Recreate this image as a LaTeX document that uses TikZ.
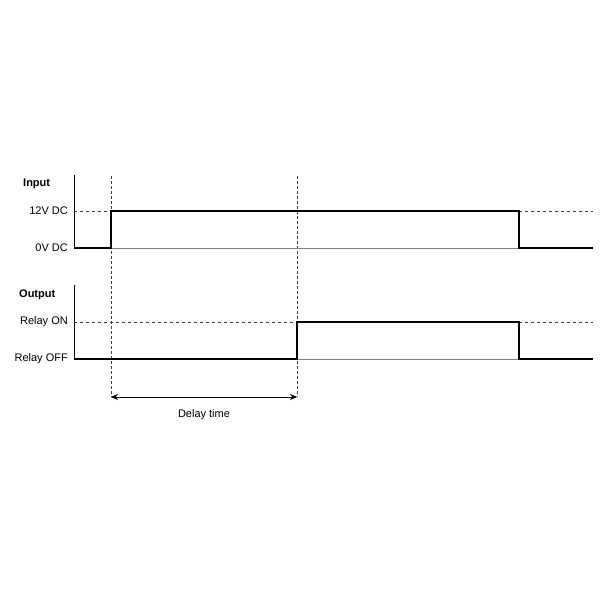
\documentclass[tikz,border=0pt]{standalone}
\usepackage{fontspec}
\setmainfont{Liberation Sans}
\usetikzlibrary{arrows.meta}

\begin{document}
\begin{tikzpicture}[x=1pt, y=-1pt, font=\fontsize{11}{13}\selectfont,
  axis/.style={-, line width=0.8pt},
  signal/.style={-, line width=2.4pt, line join=miter},
  base/.style={-, line width=0.8pt, color=gray},
  level/.style={-, line width=0.8pt, dash pattern=on 3pt off 3pt, color=darkgray},
  marker/.style={-, line width=0.8pt, dash pattern=on 2.5pt off 2.5pt, color=darkgray},
  lbl/.style={anchor=east, inner sep=0pt}]

\useasboundingbox (0, 0) rectangle (600, 600);

\coordinate (on) at (111, 0);
\coordinate (delay) at (297, 0);
\coordinate (off) at (519, 0);

\node[anchor=west, inner sep=0pt, font=\fontsize{11}{13}\selectfont\bfseries] (inlbl) at (23, 184) {Input};
\node[lbl] (inhigh) at (68, 211) {12V DC};
\node[lbl] (inlow) at (68, 248) {0V DC};

\node[anchor=west, inner sep=0pt, font=\fontsize{11}{13}\selectfont\bfseries] (outlbl) at (19, 295) {Output};
\node[lbl] (outhigh) at (68, 322) {Relay ON};
\node[lbl] (outlow) at (68, 359) {Relay OFF};

\draw[axis] (74, 175) -- (74, 248);
\draw[axis] (74, 285) -- (74, 359);

\draw[marker] (on |- 0, 176) -- (on |- 0, 397);
\draw[marker] (delay |- 0, 176) -- (delay |- 0, 397);

\draw[level] (74, 211) -- (on |- 0, 211);
\draw[level] (off |- 0, 211) -- (593, 211);
\draw[level] (74, 322) -- (delay |- 0, 322);
\draw[level] (off |- 0, 322) -- (593, 322);

\draw[base] (on |- 0, 248) -- (off |- 0, 248);
\draw[base] (delay |- 0, 359) -- (off |- 0, 359);

\draw[signal] (74, 248) -- (on |- 0, 248) -- (on |- 0, 211) -- (off |- 0, 211) -- (off |- 0, 248) -- (593, 248);
\draw[signal] (74, 359) -- (delay |- 0, 359) -- (delay |- 0, 322) -- (off |- 0, 322) -- (off |- 0, 359) -- (593, 359);

\coordinate (a) at (on |- 0, 397);
\coordinate (b) at (delay |- 0, 397);
\draw[{Stealth[length=7pt, width=6pt]}-{Stealth[length=7pt, width=6pt]}, line width=0.8pt] (a) -- (b);
\node (delaylbl) at (204, 415) {Delay time};

\end{tikzpicture}
\end{document}
